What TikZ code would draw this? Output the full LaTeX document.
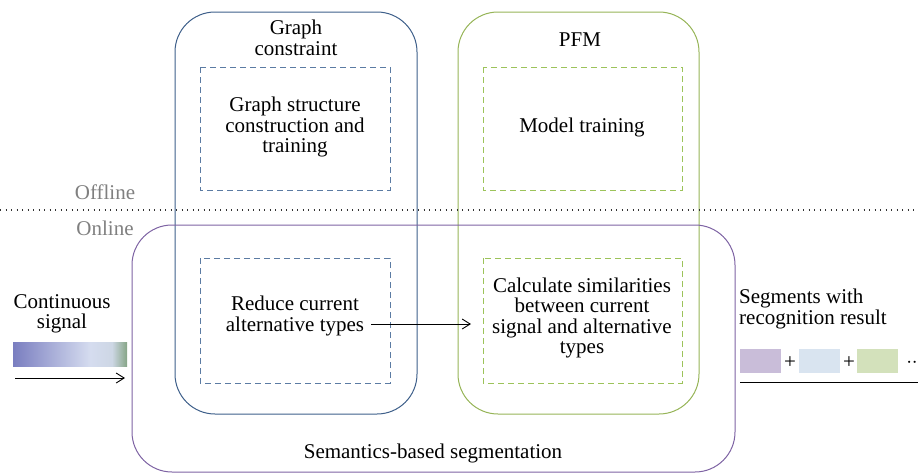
\documentclass[tikz,border=0pt]{standalone}
\usepackage{fontspec}
\setmainfont{Liberation Serif}
\usetikzlibrary{arrows.meta}
\definecolor{bluebox}{HTML}{3E5F8A}
\definecolor{bluedash}{HTML}{5B7BA3}
\definecolor{greenbox}{HTML}{96B457}
\definecolor{greendash}{HTML}{9CC35A}
\definecolor{purplebox}{HTML}{7E63A3}
\definecolor{graytext}{HTML}{808080}
\definecolor{segpurple}{HTML}{C9BDD9}
\definecolor{segblue}{HTML}{D9E4F0}
\definecolor{seggreen}{HTML}{D3E1BB}
\definecolor{gradA}{HTML}{7A7EC0}
\definecolor{gradB}{HTML}{D5DCEF}
\definecolor{gradC}{HTML}{86A586}
\begin{document}
\begin{tikzpicture}[x=1pt,y=-1pt,
  txt/.style={font=\fontsize{21}{20.5}\selectfont, align=center, inner sep=0pt},
  gtxt/.style={font=\fontsize{21}{20.5}\selectfont, text=graytext, inner sep=0pt},
  bigbox/.style={draw, line width=1pt, rounded corners=40pt},
  dashbox/.style={draw, line width=1pt, dash pattern=on 6pt off 4pt},
  arr/.style={-{Straight Barb[length=8pt,width=10pt]}, line width=0.9pt}]
\useasboundingbox (0,0) rectangle (918,474);
% big rounded boxes
\draw[bigbox, bluebox] (175,12) rectangle (417,414);
\draw[bigbox, greenbox] (458,12) rectangle (699,414);
\draw[bigbox, purplebox] (132,225) rectangle (735,472);
% dotted divider
\draw[line width=1.1pt, dash pattern=on 1.1pt off 4.4pt, black!80] (0,210) -- (918,210);
\node[gtxt] (offline) at (105,192) {Offline};
\node[gtxt] (online) at (105,228) {Online};
% titles
\node[txt] (gc) at (296,38) {Graph\\constraint};
\node[txt] (pfm) at (580,40) {PFM};
% dashed boxes
\draw[dashbox, bluedash] (200,67) rectangle (390,190);
\draw[dashbox, greendash] (483,67) rectangle (682,190);
\draw[dashbox, bluedash] (200,258) rectangle (390,383);
\draw[dashbox, greendash] (483,258) rectangle (682,383);
\node[txt] (gs) at (295,127) {Graph structure\\construction and\\training};
\node[txt] (mt) at (582,127) {Model training};
\node[txt] (rc) at (295,316) {Reduce current\\alternative types};
\node[txt] (cs) at (582,318) {Calculate similarities\\between current\\signal and alternative\\types};
\coordinate (a1) at (371,324);
\coordinate (a2) at (471,324);
\draw[arr] (a1) -- (a2);
% input
\node[txt] (cont) at (62,314) {Continuous\\signal};
\shade[left color=gradA, right color=gradB] (13,342) rectangle (90,366);
\shade[left color=gradB, right color=gradB!90!gradC] (90,342) rectangle (112,366);
\shade[left color=gradB!90!gradC, right color=gradC] (112,342) rectangle (127,366);
\coordinate (i1) at (15,378);
\coordinate (i2) at (125,378);
\draw[arr] (i1) -- (i2);
% output
\node[txt, align=left, anchor=west] (seg) at (739,309) {Segments with\\recognition result};
\fill[segpurple] (740,349) rectangle (781,373);
\node[txt] (p1) at (790,363) {+};
\fill[segblue] (799,349) rectangle (840,373);
\node[txt] (p2) at (849,363) {+};
\fill[seggreen] (857,349) rectangle (898,373);
\node[txt] (dots) at (912,363) {$\cdot\cdot$};
\coordinate (o1) at (740,382);
\coordinate (o2) at (918,382);
\draw[line width=1pt] (o1) -- (o2);
\node[txt] (sem) at (433,453) {Semantics-based segmentation};
\end{tikzpicture}
\end{document}
